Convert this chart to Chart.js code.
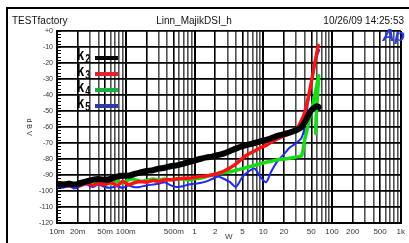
<!DOCTYPE html>
<html>
<head>
<meta charset="utf-8">
<script src="https://cdn.jsdelivr.net/npm/chart.js@4/dist/chart.umd.min.js"></script>
<style>
  html, body { margin: 0; padding: 0; background: #fff; }
</style>
</head>
<body>
<canvas id="thd" width="409" height="243"></canvas>
<script>
// shared sweep points (W) up to 36 W
const watts = [0.01, 0.012, 0.015, 0.018, 0.022, 0.027, 0.033, 0.04, 0.05, 0.06, 0.075, 0.09,
  0.11, 0.13, 0.16, 0.2, 0.25, 0.3, 0.37, 0.45, 0.55, 0.68, 0.82, 1, 1.2, 1.5, 1.8, 2.2,
  2.7, 3.3, 4, 5, 6, 7.5, 9, 11, 13, 16, 20, 24, 28, 32, 36];

const k2 = [-95.5, -96, -95.5, -96, -95, -94, -93, -92.5, -93, -92.5, -91, -90.5, -90.5, -89.5,
  -88.5, -87.5, -87, -86, -85.5, -84.5, -84, -83, -82, -81, -80, -79, -78.5, -77.5, -76.5, -75,
  -73.5, -72, -71, -70, -69, -68, -67, -65.5, -64.5, -63.5, -62.5, -61.5, -60];
const k3 = [-96, -95, -97, -95.5, -96.5, -95, -96.5, -95, -96, -94.5, -96.5, -94, -96, -95, -94,
  -94.5, -93.5, -94, -93, -93, -92.5, -92, -92, -91.5, -91, -90.5, -90, -89, -87.5, -85.5, -83,
  -79.5, -77, -75, -73, -71.5, -69.5, -67.5, -65.5, -63.5, -62, -60, -56];
const k4 = [-95, -96, -94.5, -96, -95, -94, -96, -95, -94.5, -95.5, -94, -95, -93, -92.5, -94,
  -93.5, -92.5, -93, -92.5, -93, -92.5, -92.5, -93, -92.5, -92, -91, -90, -89, -88.5, -88, -87,
  -86, -85, -84, -83, -82, -81.5, -80.5, -80, -79.5, -79, -78.5, -78];
const k5 = [-97.5, -98, -97, -98.5, -97, -96, -97.5, -96, -97.5, -98, -97, -98, -96.5, -97.5,
  -97.5, -96.5, -96, -95.5, -94.5, -96.5, -97.5, -97, -96, -95.5, -95, -94, -92.5, -91, -92.5,
  -94.5, -97.5, -91, -88, -86, -91, -94.5, -88, -81.5, -77, -73, -71, -69, -67];

// end of sweep, each harmonic runs off differently
const k2TailW = [40, 45, 50, 55, 60, 64];
const k2Tail = [-57, -53, -49.5, -48, -47, -47.5];
const k3TailW = [40, 45, 50, 55, 60, 63];
const k3Tail = [-51, -42, -32, -22, -14, -9];
const k4TailW = [38, 40, 45, 50, 55, 60, 64, 59, 58];
const k4Tail = [-74, -68, -59, -50, -42, -34, -28, -52, -64];
const k5TailW = [40, 45, 50, 55, 60, 65];
const k5Tail = [-60, -44, -33, -23, -16, -12];

const seriesNames = ['2', '3', '4', '5'];
const xTickVals = [0.01, 0.02, 0.05, 0.1, 0.5, 1, 2, 5, 10, 20, 50, 100, 200, 500, 1000];
const xTickText = ['10m', '20m', '50m', '100m', '500m', '1', '2', '5', '10', '20', '50', '100', '200', '500', '1k'];
const yTicks = [0, -10, -20, -30, -40, -50, -60, -70, -80, -90, -100, -110, -120];
const header = ['TESTfactory', 'Linn_MajikDSI_h', '10/26/09 14:25:53'];

const toPts = (w, v, tw, tv) => w.map((x, i) => ({ x: x, y: v[i] }))
  .concat(tw.map((x, i) => ({ x: x, y: tv[i] })));

// 1..9 per decade for the log grid
const fmt = v => Number(v.toPrecision(3));
const gridTicks = [];
for (let e = -2; e <= 2; e++) for (let m = 1; m <= 9; m++) gridTicks.push(fmt(m * Math.pow(10, e)));
gridTicks.push(1000);
const mant = v => Math.round(v / Math.pow(10, Math.floor(Math.log10(v) + 1e-9)));

const legendColors = ['#000000', '#e8202a', '#18b040', '#2a3aa8'];

const decor = {
  id: 'decor',
  beforeDraw(chart) {
    const ctx = chart.ctx;
    ctx.save();
    ctx.fillStyle = '#fff';
    ctx.fillRect(0, 0, chart.width, chart.height);
    ctx.restore();
  },
  afterDraw(chart) {
    const { ctx, chartArea: a, scales } = chart;
    ctx.save();
    // ruler on the dB axis
    ctx.strokeStyle = '#000';
    ctx.lineWidth = 1;
    for (let v = -120; v <= 0; v += 2) {
      const py = Math.round(scales.y.getPixelForValue(v)) + 0.5;
      ctx.beginPath();
      ctx.moveTo(a.left, py);
      ctx.lineTo(a.left + 4, py);
      ctx.stroke();
    }
    // outer frame
    ctx.lineWidth = 2;
    ctx.strokeRect(7, 8, 600, 600);
    // header
    ctx.fillStyle = '#111';
    ctx.font = '10px "Liberation Sans", Arial, sans-serif';
    ctx.textBaseline = 'middle';
    ctx.textAlign = 'left';
    ctx.fillText(header[0], 12, 21);
    ctx.textAlign = 'center';
    ctx.fillText(header[1], 194, 21);
    ctx.textAlign = 'right';
    ctx.fillText(header[2], 404, 21);
    // y title, reads top to bottom
    ctx.save();
    ctx.translate(29, (a.top + a.bottom) / 2);
    ctx.rotate(Math.PI / 2);
    ctx.textAlign = 'center';
    ctx.font = '7px "Liberation Sans", Arial, sans-serif';
    ctx.fillStyle = '#333';
    ctx.fillText('d B V', 0, 0);
    ctx.restore();
    // legend inside plot, condensed k with subscript
    seriesNames.forEach((n, i) => {
      const ly = 58 + i * 16;
      ctx.save();
      ctx.fillStyle = '#000';
      ctx.textAlign = 'left';
      ctx.textBaseline = 'alphabetic';
      ctx.translate(77, ly + 2);
      ctx.scale(0.75, 1);
      ctx.font = 'bold 17px "Liberation Sans", Arial, sans-serif';
      ctx.fillText('k', 0, 0);
      ctx.font = 'bold 12px "Liberation Sans", Arial, sans-serif';
      ctx.fillText(n, 11, 3);
      ctx.restore();
      ctx.strokeStyle = legendColors[i];
      ctx.lineWidth = 4;
      ctx.beginPath();
      ctx.moveTo(95, ly);
      ctx.lineTo(118, ly);
      ctx.stroke();
    });
    // Ap logo
    ctx.fillStyle = '#1f3cf2';
    ctx.font = 'italic bold 17px "Liberation Sans", Arial, sans-serif';
    ctx.textAlign = 'right';
    ctx.textBaseline = 'alphabetic';
    ctx.fillText('Ap', 405, 41);
    ctx.restore();
  }
};

new Chart(document.getElementById('thd'), {
  type: 'line',
  data: {
    datasets: [
      { data: toPts(watts, k2, k2TailW, k2Tail), borderColor: '#000', borderWidth: 6 },
      { data: toPts(watts, k3, k3TailW, k3Tail), borderColor: '#ff1010', borderWidth: 3.5 },
      { data: toPts(watts, k4, k4TailW, k4Tail), borderColor: '#10e010', borderWidth: 3.5 },
      { data: toPts(watts, k5, k5TailW, k5Tail), borderColor: '#1c28ff', borderWidth: 2 }
    ]
  },
  options: {
    responsive: false,
    animation: false,
    devicePixelRatio: 1,
    layout: { padding: { top: 31, right: 3, bottom: 0, left: 0 } },
    elements: { point: { radius: 0 }, line: { tension: 0.25, borderCapStyle: 'round', borderJoinStyle: 'round' } },
    plugins: { legend: { display: false }, tooltip: { enabled: false } },
    scales: {
      x: {
        type: 'logarithmic',
        min: 0.01,
        max: 1000,
        afterBuildTicks: s => { s.ticks = gridTicks.map(v => ({ value: v })); },
        afterFit: s => { s.height = 20; },
        ticks: {
          autoSkip: false,
          maxRotation: 0,
          padding: 4,
          color: '#333',
          font: { size: 8, family: '"Liberation Sans", Arial, sans-serif' },
          callback: v => {
            const i = xTickVals.findIndex(t => Math.abs(t - v) / t < 1e-6);
            return i < 0 ? '' : xTickText[i];
          }
        },
        grid: {
          drawTicks: false,
          color: c => (c.tick && [1, 2, 5].includes(mant(c.tick.value))) ? '#000' : '#505050',
          lineWidth: c => (c.tick && mant(c.tick.value) === 1) ? 2 : 1.6
        },
        border: { display: true, color: '#000', width: 2 },
        title: {
          display: true,
          text: 'W',
          color: '#333',
          padding: { top: 1, bottom: 1 },
          font: { size: 8, family: '"Liberation Sans", Arial, sans-serif' }
        }
      },
      y: {
        min: -120,
        max: 0,
        afterBuildTicks: s => { s.ticks = yTicks.map(v => ({ value: v })); },
        afterFit: s => { s.width = 57; },
        ticks: {
          padding: 4,
          color: '#333',
          font: { size: 7, family: '"Liberation Sans", Arial, sans-serif' },
          callback: v => v === 0 ? '+0' : String(v)
        },
        grid: { drawTicks: false, color: '#000', lineWidth: 1.8 },
        border: { display: true, color: '#000', width: 2 }
      }
    }
  },
  plugins: [decor]
});
</script>
</body>
</html>
